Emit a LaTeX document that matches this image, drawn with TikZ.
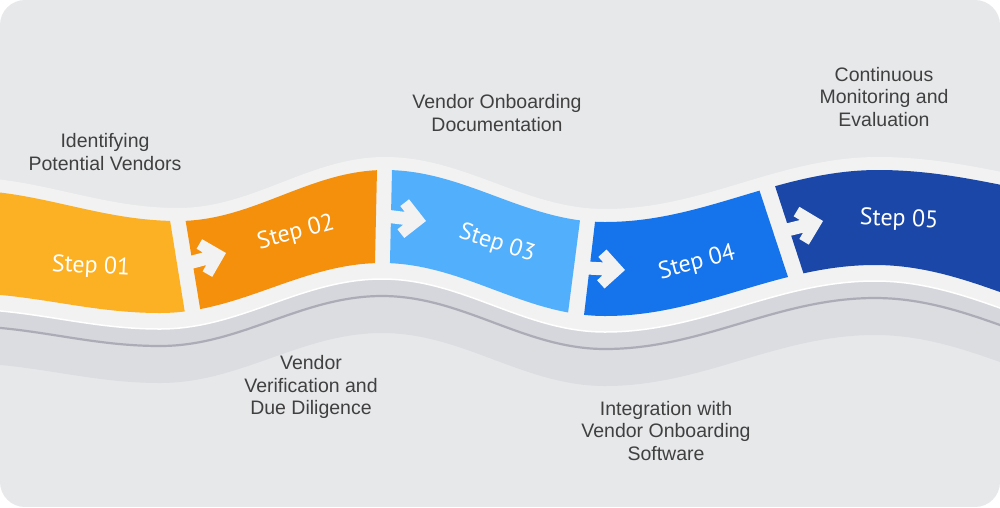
\documentclass[tikz,border=0pt]{standalone}
\usepackage{fontspec}
\newfontfamily\lblfont{Liberation Sans}
\newfontfamily\stepfont{PT Sans}
\definecolor{bgc}{HTML}{E7E8EA}
\definecolor{band}{HTML}{F2F2F2}
\definecolor{sidec}{HTML}{D6D7DC}
\definecolor{darkline}{HTML}{ABACB6}
\definecolor{shadowc}{HTML}{DCDDE1}
\definecolor{cA}{HTML}{FCB024}
\definecolor{cB}{HTML}{F4900C}
\definecolor{cC}{HTML}{52AFFC}
\definecolor{cD}{HTML}{1573EC}
\definecolor{cE}{HTML}{1B48A8}
\definecolor{labelc}{HTML}{404040}
\tikzset{
  pics/stepArrow/.style={code={
    \fill[band] (0,0) -- (-19.5,-19.5) -- (-27.3,-11.7) -- (-22.2,-6.5) -- (-40,-6.5)
      -- (-40,6.5) -- (-22.2,6.5) -- (-27.3,11.7) -- (-19.5,19.5) -- cycle;
  }}
}
% top edge of the coloured band, shifted by #1
\newcommand{\Tpath}[1]{(-40,{190+#1}) .. controls (39.4,{190+#1}) and (98.6,{221+#1}) .. (178,{221+#1})
  .. controls (253.3,{221+#1}) and (309.7,{170+#1}) .. (385,{170+#1})
  .. controls (465.1,{170+#1}) and (524.9,{222+#1}) .. (605,{222+#1})
  .. controls (704.4,{222+#1}) and (778.6,{170+#1}) .. (878,{170+#1})
  .. controls (977,{170+#1}) and (1051,{205+#1}) .. (1150,{205+#1})}
% bottom edge of the coloured band, shifted by #1, left to right
\newcommand{\Bfwd}[1]{(-40,{293+#1}) .. controls (32.8,{293+#1}) and (87.2,{313+#1}) .. (160,{313+#1})
  .. controls (240.8,{313+#1}) and (301.2,{263+#1}) .. (382,{263+#1})
  .. controls (463.2,{263+#1}) and (523.8,{316+#1}) .. (605,{316+#1})
  .. controls (703.3,{316+#1}) and (776.7,{265+#1}) .. (875,{265+#1})
  .. controls (975.1,{265+#1}) and (1049.9,{328+#1}) .. (1150,{328+#1})}
% same, right to left
\newcommand{\Brev}[1]{(1150,{328+#1}) .. controls (1049.9,{328+#1}) and (975.1,{265+#1}) .. (875,{265+#1})
  .. controls (776.7,{265+#1}) and (703.3,{316+#1}) .. (605,{316+#1})
  .. controls (523.8,{316+#1}) and (463.2,{263+#1}) .. (382,{263+#1})
  .. controls (301.2,{263+#1}) and (240.8,{313+#1}) .. (160,{313+#1})
  .. controls (87.2,{313+#1}) and (32.8,{293+#1}) .. (-40,{293+#1})}
\begin{document}
\begin{tikzpicture}[x=1pt,y=-1pt,
  lbl/.style={text=labelc, font=\lblfont\fontsize{19.5}{22.5}\selectfont, align=center, inner sep=0pt},
  steplbl/.style={text=white, font=\stepfont\fontsize{24}{28}\selectfont, inner sep=0pt}]
\useasboundingbox (0,0) rectangle (1000,507);
\begin{scope}
\clip[rounded corners=25pt] (0,0) rectangle (1000,507);
\fill[bgc] (0,0) rectangle (1000,507);
% shadow below the ribbon
\fill[shadowc] \Bfwd{16} -- \Brev{70} -- cycle;
% ribbon thickness
\fill[sidec] \Bfwd{16} -- \Brev{33} -- cycle;
\draw[darkline, line width=2.2pt] \Bfwd{33};
% light band
\fill[band] \Tpath{-13} -- \Brev{16} -- cycle;
\draw[white, line width=1.5pt] \Bfwd{16};
% coloured segments
\begin{scope}\clip (-50,100) -- (150.6,100) -- (199,400) -- (-50,400) -- cycle;
  \fill[cA] \Tpath{0} -- \Brev{0} -- cycle; \end{scope}
\begin{scope}\clip (165.7,100) -- (378.5,100) -- (372,400) -- (215.2,400) -- cycle;
  \fill[cB] \Tpath{0} -- \Brev{0} -- cycle; \end{scope}
\begin{scope}\clip (393.5,100) -- (595.5,100) -- (556.8,400) -- (387,400) -- cycle;
  \fill[cC] \Tpath{0} -- \Brev{0} -- cycle; \end{scope}
\begin{scope}\clip (609.4,100) -- (729.6,100) -- (828.6,400) -- (574,400) -- cycle;
  \fill[cD] \Tpath{0} -- \Brev{0} -- cycle; \end{scope}
\begin{scope}\clip (747,100) -- (1160,100) -- (1160,400) -- (844.7,400) -- cycle;
  \fill[cE] \Tpath{0} -- \Brev{0} -- cycle; \end{scope}
% arrows
\pic[rotate=15] at (226,253) {stepArrow};
\pic[rotate=-7] at (426,221) {stepArrow};
\pic[rotate=-3] at (625,270) {stepArrow};
\pic[rotate=14] at (823,221) {stepArrow};
\end{scope}
% step labels
\node[steplbl, rotate=-3] (s1) at (91,267) {Step 01};
\node[steplbl, rotate=15] (s2) at (296,233) {Step 02};
\node[steplbl, rotate=-18] (s3) at (497,244) {Step 03};
\node[steplbl, rotate=15] (s4) at (697,263) {Step 04};
\node[steplbl, rotate=-2] (s5) at (899,220) {Step 05};
% descriptions
\node[lbl] (t1) at (105,152) {Identifying\\Potential Vendors};
\node[lbl] (t2) at (497,113) {Vendor Onboarding\\Documentation};
\node[lbl] (t3) at (884,97) {Continuous\\Monitoring and\\Evaluation};
\node[lbl] (t4) at (311,387) {Vendor\\Verification and\\Due Diligence};
\node[lbl] (t5) at (666,431) {Integration with\\Vendor Onboarding\\Software};
\end{tikzpicture}
\end{document}
